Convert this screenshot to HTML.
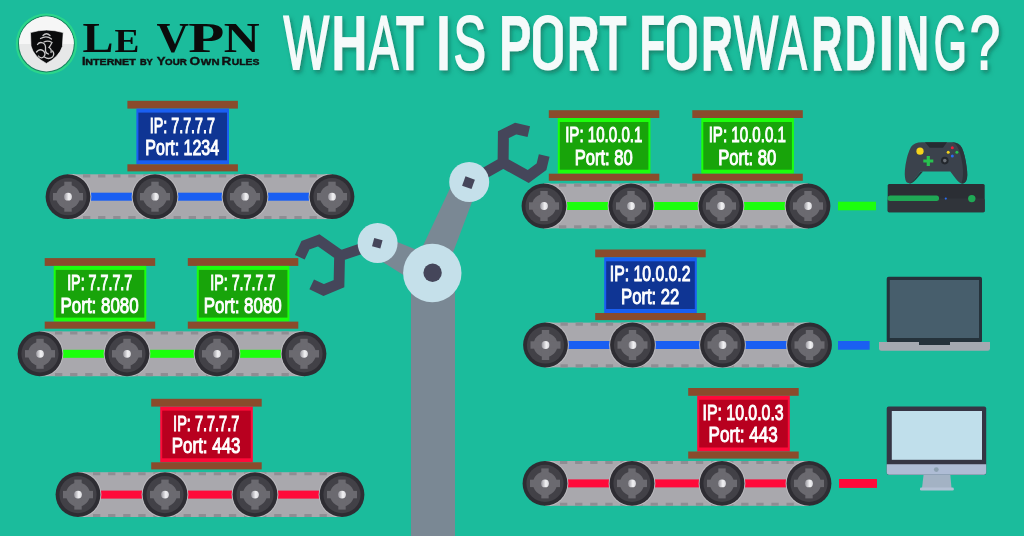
<!DOCTYPE html>
<html><head><meta charset="utf-8"><style>
html,body{margin:0;padding:0;background:#1bbc9c;}
svg{display:block;}
.bt{font-family:"Liberation Sans",sans-serif;font-weight:bold;font-size:23px;fill:#fff;text-anchor:middle;}
.tt{font-family:"Liberation Sans",sans-serif;font-weight:bold;font-size:79px;fill:#f5fafa;}
</style></head><body>
<svg style="will-change:transform" width="1024" height="536" viewBox="0 0 1024 536">
<defs>
<g id="wheel">
<circle r="22.4" fill="#2e2d33"/>
<circle r="18.6" fill="#424147"/>
<circle r="12" fill="#6b6a70"/>
<rect x="-3.7" y="-15" width="7.4" height="30" fill="#6b6a70"/>
<rect x="-15" y="-3.7" width="30" height="7.4" fill="#6b6a70"/>
<circle r="3.9" fill="url(#pin)"/>
</g>
<linearGradient id="pin" x1="0" x2="1" y1="0" y2="0"><stop offset="0" stop-color="#9a99a0"/><stop offset="0.6" stop-color="#f2f2f4"/><stop offset="1" stop-color="#d8d8dc"/></linearGradient>
<filter id="tsh" x="-5%" y="-20%" width="110%" height="150%"><feDropShadow dx="2" dy="3" stdDeviation="2" flood-color="#0a5a48" flood-opacity="0.55"/></filter>
<radialGradient id="logoW" cx="0.5" cy="0.4" r="0.6"><stop offset="0" stop-color="#ffffff"/><stop offset="1" stop-color="#e4e4e4"/></radialGradient>
</defs>
<rect width="1024" height="536" fill="#1bbc9c"/>

<rect x="411" y="273" width="44" height="263" fill="#7a8894"/>
<path d="M410.2 273 L456.25 175 L482.2 175 L445.3 273 Z" fill="#7a8894"/>
<path d="M370 231 L432 255.95 L432 292.9 L370 254.1 Z" fill="#7a8894"/>
<path d="M469 182 L503.1 162.6 M528.8 131.6 L515.7 128.6 L503.4 134.6 L503.1 162.6 L528.3 176.5 L541.5 166.7 L544.2 155.5" fill="none" stroke="#45465a" stroke-width="11" stroke-linejoin="miter"/>
<path d="M377.6 243 L339.6 256 M299.8 257.2 L305.4 245.3 L318.7 240.4 L339.6 255 L339 283.7 L323.6 290 L311.7 284.4" fill="none" stroke="#45465a" stroke-width="10.8" stroke-linejoin="miter"/>
<circle cx="432.3" cy="273" r="29.2" fill="#c5e0ea"/><circle cx="432.6" cy="272.8" r="9.2" fill="#45465a"/>
<circle cx="469.2" cy="182" r="20" fill="#c5e0ea"/><rect x="-5" y="-5" width="10" height="10" fill="#45465a" transform="translate(468.5 182.7) rotate(20)"/>
<circle cx="377.6" cy="243" r="20" fill="#c5e0ea"/><rect x="-4.3" y="-4.3" width="8.6" height="8.6" fill="#45465a" transform="translate(377.3 243.2) rotate(15)"/>
<rect x="68" y="174.29999999999998" width="264" height="44.8" fill="#a9a8ad"/>
<path d="M83.0 174.3h7.3v3.1h-7.3z M83.0 216.0h7.3v3.1h-7.3z M98.1 174.3h7.3v3.1h-7.3z M98.1 216.0h7.3v3.1h-7.3z M113.2 174.3h7.3v3.1h-7.3z M113.2 216.0h7.3v3.1h-7.3z M128.3 174.3h7.3v3.1h-7.3z M128.3 216.0h7.3v3.1h-7.3z M143.4 174.3h7.3v3.1h-7.3z M143.4 216.0h7.3v3.1h-7.3z M158.5 174.3h7.3v3.1h-7.3z M158.5 216.0h7.3v3.1h-7.3z M173.6 174.3h7.3v3.1h-7.3z M173.6 216.0h7.3v3.1h-7.3z M188.7 174.3h7.3v3.1h-7.3z M188.7 216.0h7.3v3.1h-7.3z M203.8 174.3h7.3v3.1h-7.3z M203.8 216.0h7.3v3.1h-7.3z M218.9 174.3h7.3v3.1h-7.3z M218.9 216.0h7.3v3.1h-7.3z M234.0 174.3h7.3v3.1h-7.3z M234.0 216.0h7.3v3.1h-7.3z M249.1 174.3h7.3v3.1h-7.3z M249.1 216.0h7.3v3.1h-7.3z M264.2 174.3h7.3v3.1h-7.3z M264.2 216.0h7.3v3.1h-7.3z M279.3 174.3h7.3v3.1h-7.3z M279.3 216.0h7.3v3.1h-7.3z M294.4 174.3h7.3v3.1h-7.3z M294.4 216.0h7.3v3.1h-7.3z M309.5 174.3h7.3v3.1h-7.3z M309.5 216.0h7.3v3.1h-7.3z" fill="#8e8d93"/>
<rect x="68" y="192.7" width="264" height="8" fill="#1a5ff2"/>
<clipPath id="cp68_196"><rect x="68" y="174.29999999999998" width="264" height="44.8"/></clipPath>
<g clip-path="url(#cp68_196)" fill="#bcbbbf"><circle cx="68" cy="196.7" r="23.4"/><circle cx="155" cy="196.7" r="23.4"/><circle cx="245" cy="196.7" r="23.4"/><circle cx="332" cy="196.7" r="23.4"/></g>
<use href="#wheel" x="68" y="196.7"/>
<use href="#wheel" x="155" y="196.7"/>
<use href="#wheel" x="245" y="196.7"/>
<use href="#wheel" x="332" y="196.7"/>
<rect x="40" y="331.40000000000003" width="264" height="44.8" fill="#a9a8ad"/>
<path d="M55.0 331.4h7.3v3.1h-7.3z M55.0 373.1h7.3v3.1h-7.3z M70.1 331.4h7.3v3.1h-7.3z M70.1 373.1h7.3v3.1h-7.3z M85.2 331.4h7.3v3.1h-7.3z M85.2 373.1h7.3v3.1h-7.3z M100.3 331.4h7.3v3.1h-7.3z M100.3 373.1h7.3v3.1h-7.3z M115.4 331.4h7.3v3.1h-7.3z M115.4 373.1h7.3v3.1h-7.3z M130.5 331.4h7.3v3.1h-7.3z M130.5 373.1h7.3v3.1h-7.3z M145.6 331.4h7.3v3.1h-7.3z M145.6 373.1h7.3v3.1h-7.3z M160.7 331.4h7.3v3.1h-7.3z M160.7 373.1h7.3v3.1h-7.3z M175.8 331.4h7.3v3.1h-7.3z M175.8 373.1h7.3v3.1h-7.3z M190.9 331.4h7.3v3.1h-7.3z M190.9 373.1h7.3v3.1h-7.3z M206.0 331.4h7.3v3.1h-7.3z M206.0 373.1h7.3v3.1h-7.3z M221.1 331.4h7.3v3.1h-7.3z M221.1 373.1h7.3v3.1h-7.3z M236.2 331.4h7.3v3.1h-7.3z M236.2 373.1h7.3v3.1h-7.3z M251.3 331.4h7.3v3.1h-7.3z M251.3 373.1h7.3v3.1h-7.3z M266.4 331.4h7.3v3.1h-7.3z M266.4 373.1h7.3v3.1h-7.3z M281.5 331.4h7.3v3.1h-7.3z M281.5 373.1h7.3v3.1h-7.3z" fill="#8e8d93"/>
<rect x="40" y="349.8" width="264" height="8" fill="#1cff0c"/>
<clipPath id="cp40_353"><rect x="40" y="331.40000000000003" width="264" height="44.8"/></clipPath>
<g clip-path="url(#cp40_353)" fill="#bcbbbf"><circle cx="40" cy="353.8" r="23.4"/><circle cx="127" cy="353.8" r="23.4"/><circle cx="217" cy="353.8" r="23.4"/><circle cx="304" cy="353.8" r="23.4"/></g>
<use href="#wheel" x="40" y="353.8"/>
<use href="#wheel" x="127" y="353.8"/>
<use href="#wheel" x="217" y="353.8"/>
<use href="#wheel" x="304" y="353.8"/>
<rect x="78" y="472.20000000000005" width="264" height="44.8" fill="#a9a8ad"/>
<path d="M93.0 472.2h7.3v3.1h-7.3z M93.0 513.9h7.3v3.1h-7.3z M108.1 472.2h7.3v3.1h-7.3z M108.1 513.9h7.3v3.1h-7.3z M123.2 472.2h7.3v3.1h-7.3z M123.2 513.9h7.3v3.1h-7.3z M138.3 472.2h7.3v3.1h-7.3z M138.3 513.9h7.3v3.1h-7.3z M153.4 472.2h7.3v3.1h-7.3z M153.4 513.9h7.3v3.1h-7.3z M168.5 472.2h7.3v3.1h-7.3z M168.5 513.9h7.3v3.1h-7.3z M183.6 472.2h7.3v3.1h-7.3z M183.6 513.9h7.3v3.1h-7.3z M198.7 472.2h7.3v3.1h-7.3z M198.7 513.9h7.3v3.1h-7.3z M213.8 472.2h7.3v3.1h-7.3z M213.8 513.9h7.3v3.1h-7.3z M228.9 472.2h7.3v3.1h-7.3z M228.9 513.9h7.3v3.1h-7.3z M244.0 472.2h7.3v3.1h-7.3z M244.0 513.9h7.3v3.1h-7.3z M259.1 472.2h7.3v3.1h-7.3z M259.1 513.9h7.3v3.1h-7.3z M274.2 472.2h7.3v3.1h-7.3z M274.2 513.9h7.3v3.1h-7.3z M289.3 472.2h7.3v3.1h-7.3z M289.3 513.9h7.3v3.1h-7.3z M304.4 472.2h7.3v3.1h-7.3z M304.4 513.9h7.3v3.1h-7.3z M319.5 472.2h7.3v3.1h-7.3z M319.5 513.9h7.3v3.1h-7.3z" fill="#8e8d93"/>
<rect x="78" y="490.6" width="264" height="8" fill="#ff0a3a"/>
<clipPath id="cp78_494"><rect x="78" y="472.20000000000005" width="264" height="44.8"/></clipPath>
<g clip-path="url(#cp78_494)" fill="#bcbbbf"><circle cx="78" cy="494.6" r="23.4"/><circle cx="165" cy="494.6" r="23.4"/><circle cx="255" cy="494.6" r="23.4"/><circle cx="342" cy="494.6" r="23.4"/></g>
<use href="#wheel" x="78" y="494.6"/>
<use href="#wheel" x="165" y="494.6"/>
<use href="#wheel" x="255" y="494.6"/>
<use href="#wheel" x="342" y="494.6"/>
<rect x="544" y="183.6" width="264" height="44.8" fill="#a9a8ad"/>
<path d="M559.0 183.6h7.3v3.1h-7.3z M559.0 225.3h7.3v3.1h-7.3z M574.1 183.6h7.3v3.1h-7.3z M574.1 225.3h7.3v3.1h-7.3z M589.2 183.6h7.3v3.1h-7.3z M589.2 225.3h7.3v3.1h-7.3z M604.3 183.6h7.3v3.1h-7.3z M604.3 225.3h7.3v3.1h-7.3z M619.4 183.6h7.3v3.1h-7.3z M619.4 225.3h7.3v3.1h-7.3z M634.5 183.6h7.3v3.1h-7.3z M634.5 225.3h7.3v3.1h-7.3z M649.6 183.6h7.3v3.1h-7.3z M649.6 225.3h7.3v3.1h-7.3z M664.7 183.6h7.3v3.1h-7.3z M664.7 225.3h7.3v3.1h-7.3z M679.8 183.6h7.3v3.1h-7.3z M679.8 225.3h7.3v3.1h-7.3z M694.9 183.6h7.3v3.1h-7.3z M694.9 225.3h7.3v3.1h-7.3z M710.0 183.6h7.3v3.1h-7.3z M710.0 225.3h7.3v3.1h-7.3z M725.1 183.6h7.3v3.1h-7.3z M725.1 225.3h7.3v3.1h-7.3z M740.2 183.6h7.3v3.1h-7.3z M740.2 225.3h7.3v3.1h-7.3z M755.3 183.6h7.3v3.1h-7.3z M755.3 225.3h7.3v3.1h-7.3z M770.4 183.6h7.3v3.1h-7.3z M770.4 225.3h7.3v3.1h-7.3z M785.5 183.6h7.3v3.1h-7.3z M785.5 225.3h7.3v3.1h-7.3z" fill="#8e8d93"/>
<rect x="544" y="202" width="264" height="8" fill="#1cff0c"/>
<clipPath id="cp544_206"><rect x="544" y="183.6" width="264" height="44.8"/></clipPath>
<g clip-path="url(#cp544_206)" fill="#bcbbbf"><circle cx="544" cy="206" r="23.4"/><circle cx="631" cy="206" r="23.4"/><circle cx="721" cy="206" r="23.4"/><circle cx="808" cy="206" r="23.4"/></g>
<use href="#wheel" x="544" y="206"/>
<use href="#wheel" x="631" y="206"/>
<use href="#wheel" x="721" y="206"/>
<use href="#wheel" x="808" y="206"/>
<rect x="545.5" y="322.6" width="264.0" height="44.8" fill="#a9a8ad"/>
<path d="M560.5 322.6h7.3v3.1h-7.3z M560.5 364.3h7.3v3.1h-7.3z M575.6 322.6h7.3v3.1h-7.3z M575.6 364.3h7.3v3.1h-7.3z M590.7 322.6h7.3v3.1h-7.3z M590.7 364.3h7.3v3.1h-7.3z M605.8 322.6h7.3v3.1h-7.3z M605.8 364.3h7.3v3.1h-7.3z M620.9 322.6h7.3v3.1h-7.3z M620.9 364.3h7.3v3.1h-7.3z M636.0 322.6h7.3v3.1h-7.3z M636.0 364.3h7.3v3.1h-7.3z M651.1 322.6h7.3v3.1h-7.3z M651.1 364.3h7.3v3.1h-7.3z M666.2 322.6h7.3v3.1h-7.3z M666.2 364.3h7.3v3.1h-7.3z M681.3 322.6h7.3v3.1h-7.3z M681.3 364.3h7.3v3.1h-7.3z M696.4 322.6h7.3v3.1h-7.3z M696.4 364.3h7.3v3.1h-7.3z M711.5 322.6h7.3v3.1h-7.3z M711.5 364.3h7.3v3.1h-7.3z M726.6 322.6h7.3v3.1h-7.3z M726.6 364.3h7.3v3.1h-7.3z M741.7 322.6h7.3v3.1h-7.3z M741.7 364.3h7.3v3.1h-7.3z M756.8 322.6h7.3v3.1h-7.3z M756.8 364.3h7.3v3.1h-7.3z M771.9 322.6h7.3v3.1h-7.3z M771.9 364.3h7.3v3.1h-7.3z M787.0 322.6h7.3v3.1h-7.3z M787.0 364.3h7.3v3.1h-7.3z" fill="#8e8d93"/>
<rect x="545.5" y="341" width="264.0" height="8" fill="#1a5ff2"/>
<clipPath id="cp545_345"><rect x="545.5" y="322.6" width="264.0" height="44.8"/></clipPath>
<g clip-path="url(#cp545_345)" fill="#bcbbbf"><circle cx="545.5" cy="345" r="23.4"/><circle cx="632.5" cy="345" r="23.4"/><circle cx="722.5" cy="345" r="23.4"/><circle cx="809.5" cy="345" r="23.4"/></g>
<use href="#wheel" x="545.5" y="345"/>
<use href="#wheel" x="632.5" y="345"/>
<use href="#wheel" x="722.5" y="345"/>
<use href="#wheel" x="809.5" y="345"/>
<rect x="545" y="461.0" width="264" height="44.8" fill="#a9a8ad"/>
<path d="M560.0 461.0h7.3v3.1h-7.3z M560.0 502.7h7.3v3.1h-7.3z M575.1 461.0h7.3v3.1h-7.3z M575.1 502.7h7.3v3.1h-7.3z M590.2 461.0h7.3v3.1h-7.3z M590.2 502.7h7.3v3.1h-7.3z M605.3 461.0h7.3v3.1h-7.3z M605.3 502.7h7.3v3.1h-7.3z M620.4 461.0h7.3v3.1h-7.3z M620.4 502.7h7.3v3.1h-7.3z M635.5 461.0h7.3v3.1h-7.3z M635.5 502.7h7.3v3.1h-7.3z M650.6 461.0h7.3v3.1h-7.3z M650.6 502.7h7.3v3.1h-7.3z M665.7 461.0h7.3v3.1h-7.3z M665.7 502.7h7.3v3.1h-7.3z M680.8 461.0h7.3v3.1h-7.3z M680.8 502.7h7.3v3.1h-7.3z M695.9 461.0h7.3v3.1h-7.3z M695.9 502.7h7.3v3.1h-7.3z M711.0 461.0h7.3v3.1h-7.3z M711.0 502.7h7.3v3.1h-7.3z M726.1 461.0h7.3v3.1h-7.3z M726.1 502.7h7.3v3.1h-7.3z M741.2 461.0h7.3v3.1h-7.3z M741.2 502.7h7.3v3.1h-7.3z M756.3 461.0h7.3v3.1h-7.3z M756.3 502.7h7.3v3.1h-7.3z M771.4 461.0h7.3v3.1h-7.3z M771.4 502.7h7.3v3.1h-7.3z M786.5 461.0h7.3v3.1h-7.3z M786.5 502.7h7.3v3.1h-7.3z" fill="#8e8d93"/>
<rect x="545" y="479.4" width="264" height="8" fill="#ff0a3a"/>
<clipPath id="cp545_483"><rect x="545" y="461.0" width="264" height="44.8"/></clipPath>
<g clip-path="url(#cp545_483)" fill="#bcbbbf"><circle cx="545" cy="483.4" r="23.4"/><circle cx="632" cy="483.4" r="23.4"/><circle cx="722" cy="483.4" r="23.4"/><circle cx="809" cy="483.4" r="23.4"/></g>
<use href="#wheel" x="545" y="483.4"/>
<use href="#wheel" x="632" y="483.4"/>
<use href="#wheel" x="722" y="483.4"/>
<use href="#wheel" x="809" y="483.4"/>
<rect x="127.4" y="100.8" width="110.5" height="7.8" fill="#8a4b2c"/>
<rect x="136.4" y="108.6" width="92.6" height="55.7" fill="#1a5ff2"/>
<rect x="138.4" y="112.6" width="88.6" height="47.7" fill="#0f3594"/>
<rect x="127.4" y="164.3" width="110.5" height="7.1" fill="#8a4b2c"/>
<text transform="translate(149.83 132.75) scale(0.6425 1)" font-family="Liberation Sans" font-weight="normal" font-size="22.24" fill="#fff" style="font-kerning:none"  stroke="#fff" stroke-width="0.9" vector-effect="non-scaling-stroke" stroke-linejoin="miter">IP: 7.7.7.7</text>
<text transform="translate(145.34 155.25) scale(0.7247 1)" font-family="Liberation Sans" font-weight="normal" font-size="22.09" fill="#fff" style="font-kerning:none"  stroke="#fff" stroke-width="0.9" vector-effect="non-scaling-stroke" stroke-linejoin="miter">Port: 1234</text>
<rect x="44.7" y="258.1" width="110.5" height="7.8" fill="#8a4b2c"/>
<rect x="53.7" y="265.90000000000003" width="92.6" height="55.7" fill="#1cff0c"/>
<rect x="55.7" y="269.90000000000003" width="88.6" height="47.7" fill="#18a40a"/>
<rect x="44.7" y="321.6" width="110.5" height="7.1" fill="#8a4b2c"/>
<text transform="translate(67.13 290.05) scale(0.6425 1)" font-family="Liberation Sans" font-weight="normal" font-size="22.24" fill="#fff" style="font-kerning:none"  stroke="#fff" stroke-width="0.9" vector-effect="non-scaling-stroke" stroke-linejoin="miter">IP: 7.7.7.7</text>
<text transform="translate(60.56 312.55) scale(0.7666 1)" font-family="Liberation Sans" font-weight="normal" font-size="22.09" fill="#fff" style="font-kerning:none"  stroke="#fff" stroke-width="0.9" vector-effect="non-scaling-stroke" stroke-linejoin="miter">Port: 8080</text>
<rect x="187.8" y="258.1" width="110.5" height="7.8" fill="#8a4b2c"/>
<rect x="196.8" y="265.90000000000003" width="92.6" height="55.7" fill="#1cff0c"/>
<rect x="198.8" y="269.90000000000003" width="88.6" height="47.7" fill="#18a40a"/>
<rect x="187.8" y="321.6" width="110.5" height="7.1" fill="#8a4b2c"/>
<text transform="translate(210.23 290.05) scale(0.6425 1)" font-family="Liberation Sans" font-weight="normal" font-size="22.24" fill="#fff" style="font-kerning:none"  stroke="#fff" stroke-width="0.9" vector-effect="non-scaling-stroke" stroke-linejoin="miter">IP: 7.7.7.7</text>
<text transform="translate(203.66 312.55) scale(0.7666 1)" font-family="Liberation Sans" font-weight="normal" font-size="22.09" fill="#fff" style="font-kerning:none"  stroke="#fff" stroke-width="0.9" vector-effect="non-scaling-stroke" stroke-linejoin="miter">Port: 8080</text>
<rect x="151.2" y="398.8" width="110.5" height="7.8" fill="#8a4b2c"/>
<rect x="160.2" y="406.6" width="92.6" height="55.7" fill="#ff0a3a"/>
<rect x="162.2" y="410.6" width="88.6" height="47.7" fill="#b8001f"/>
<rect x="151.2" y="462.3" width="110.5" height="7.1" fill="#8a4b2c"/>
<text transform="translate(173.11 430.75) scale(0.6527 1)" font-family="Liberation Sans" font-weight="normal" font-size="22.24" fill="#fff" style="font-kerning:none"  stroke="#fff" stroke-width="0.9" vector-effect="non-scaling-stroke" stroke-linejoin="miter">IP: 7.7.7.7</text>
<text transform="translate(171.81 453.25) scale(0.7666 1)" font-family="Liberation Sans" font-weight="normal" font-size="22.09" fill="#fff" style="font-kerning:none"  stroke="#fff" stroke-width="0.9" vector-effect="non-scaling-stroke" stroke-linejoin="miter">Port: 443</text>
<rect x="548.8" y="110.2" width="110.5" height="7.8" fill="#8a4b2c"/>
<rect x="557.8" y="118.0" width="92.6" height="55.7" fill="#1cff0c"/>
<rect x="559.8" y="122.0" width="88.6" height="47.7" fill="#18a40a"/>
<rect x="548.8" y="173.7" width="110.5" height="7.1" fill="#8a4b2c"/>
<text transform="translate(565.16 142.15) scale(0.6790 1)" font-family="Liberation Sans" font-weight="normal" font-size="22.24" fill="#fff" style="font-kerning:none"  stroke="#fff" stroke-width="0.9" vector-effect="non-scaling-stroke" stroke-linejoin="miter">IP: 10.0.0.1</text>
<text transform="translate(574.69 164.65) scale(0.7511 1)" font-family="Liberation Sans" font-weight="normal" font-size="22.09" fill="#fff" style="font-kerning:none"  stroke="#fff" stroke-width="0.9" vector-effect="non-scaling-stroke" stroke-linejoin="miter">Port: 80</text>
<rect x="692.3" y="110.2" width="110.5" height="7.8" fill="#8a4b2c"/>
<rect x="701.3" y="118.0" width="92.6" height="55.7" fill="#1cff0c"/>
<rect x="703.3" y="122.0" width="88.6" height="47.7" fill="#18a40a"/>
<rect x="692.3" y="173.7" width="110.5" height="7.1" fill="#8a4b2c"/>
<text transform="translate(708.66 142.15) scale(0.6790 1)" font-family="Liberation Sans" font-weight="normal" font-size="22.24" fill="#fff" style="font-kerning:none"  stroke="#fff" stroke-width="0.9" vector-effect="non-scaling-stroke" stroke-linejoin="miter">IP: 10.0.0.1</text>
<text transform="translate(718.19 164.65) scale(0.7511 1)" font-family="Liberation Sans" font-weight="normal" font-size="22.09" fill="#fff" style="font-kerning:none"  stroke="#fff" stroke-width="0.9" vector-effect="non-scaling-stroke" stroke-linejoin="miter">Port: 80</text>
<rect x="595.2" y="249.5" width="110.5" height="7.8" fill="#8a4b2c"/>
<rect x="604.2" y="257.3" width="92.6" height="55.7" fill="#1a5ff2"/>
<rect x="606.2" y="261.3" width="88.6" height="47.7" fill="#0f3594"/>
<rect x="595.2" y="313.0" width="110.5" height="7.1" fill="#8a4b2c"/>
<text transform="translate(609.79 281.45) scale(0.7099 1)" font-family="Liberation Sans" font-weight="normal" font-size="22.24" fill="#fff" style="font-kerning:none"  stroke="#fff" stroke-width="0.9" vector-effect="non-scaling-stroke" stroke-linejoin="miter">IP: 10.0.0.2</text>
<text transform="translate(621.08 303.95) scale(0.7536 1)" font-family="Liberation Sans" font-weight="normal" font-size="22.09" fill="#fff" style="font-kerning:none"  stroke="#fff" stroke-width="0.9" vector-effect="non-scaling-stroke" stroke-linejoin="miter">Port: 22</text>
<rect x="688.2" y="388" width="110.5" height="7.8" fill="#8a4b2c"/>
<rect x="697.2" y="395.8" width="92.6" height="55.7" fill="#ff0a3a"/>
<rect x="699.2" y="399.8" width="88.6" height="47.7" fill="#b8001f"/>
<rect x="688.2" y="451.5" width="110.5" height="7.1" fill="#8a4b2c"/>
<text transform="translate(702.48 419.95) scale(0.7144 1)" font-family="Liberation Sans" font-weight="normal" font-size="22.24" fill="#fff" style="font-kerning:none"  stroke="#fff" stroke-width="0.9" vector-effect="non-scaling-stroke" stroke-linejoin="miter">IP: 10.0.0.3</text>
<text transform="translate(708.55 442.45) scale(0.7724 1)" font-family="Liberation Sans" font-weight="normal" font-size="22.09" fill="#fff" style="font-kerning:none"  stroke="#fff" stroke-width="0.9" vector-effect="non-scaling-stroke" stroke-linejoin="miter">Port: 443</text>
<rect x="838" y="201.7" width="38" height="8.6" fill="#1cff0c"/>
<rect x="838" y="341" width="31.6" height="8.7" fill="#1a5ff2"/>
<rect x="839" y="479" width="38" height="8.9" fill="#ff0a3a"/>
<rect x="887.7" y="184" width="97" height="28.3" rx="1.5" fill="#2b2e34"/>
<rect x="887.7" y="198.6" width="97" height="13.7" rx="1.5" fill="#30343a"/>
<rect x="887.7" y="195.5" width="51.3" height="5.5" rx="2.5" fill="#1fa855"/>
<circle cx="971.8" cy="198.6" r="3.7" fill="#1fa855"/>
<circle cx="945.8" cy="198.6" r="1.1" fill="#2a6cf0"/>
<path d="M922 142.2 L953.3 142.3 Q959 142.5 962 148 Q965 155 966.5 166 Q968 176 966.5 180 Q965 184 961.5 183.4 Q959 183 956 179 L950.3 171.4 L920.5 171.4 L914.5 179 Q912 183 910.3 183.3 Q906.5 183.6 905.5 180 Q904 175 905.5 165 Q907.5 153 911 147 Q914 142.2 922 142.2 Z" fill="#3b424c"/>
<path d="M952 142.3 Q959 142.5 962 148 Q965 155 966.5 166 Q968 176 966.5 180 Q965 184 961.5 183.4 Q964 176 962.5 165 Q961 153 957 146 Q955 143 952 142.3 Z" fill="#2d333a"/>
<path d="M914.5 179 L920.5 171.4 L923 171.4 L916 179.5 Q912 184 909 183.4 Q912 182.5 914.5 179 Z" fill="#2d333a"/>
<path d="M925 142.2 L947 142.2 L943 147.8 L929.7 147.8 Z" fill="#262b32"/>
<circle cx="920" cy="151.2" r="3.6" fill="#f5d31c"/>
<path d="M926.7 156 h3.2 v3.4 h3.4 v3.2 h-3.4 v3.4 h-3.2 v-3.4 h-3.4 v-3.2 h3.4z" fill="#27c24f"/>
<circle cx="944.8" cy="160.6" r="3.8" fill="#23272d"/><circle cx="944.8" cy="160.6" r="1.8" fill="#6c7178"/>
<circle cx="952.3" cy="147.7" r="1.5" fill="#e8203c"/><circle cx="948.2" cy="152.2" r="1.5" fill="#f3d21b"/><circle cx="956.9" cy="152.2" r="1.5" fill="#27c24f"/><circle cx="952.3" cy="155.9" r="1.5" fill="#2a6cf0"/>
<rect x="886.7" y="276.8" width="95.3" height="66" rx="2" fill="#25323b"/>
<rect x="889.8" y="280" width="89.2" height="58" fill="#475e6c"/>
<path d="M879 342 h111 v6.5 q0 2.2 -2.2 2.2 h-106.6 q-2.2 0 -2.2 -2.2z" fill="#a5a9b1"/>
<rect x="919" y="342" width="31" height="3" fill="#25323b"/>
<path d="M923.6 474.7 L950.3 474.7 L951.5 488 L922 488 Z" fill="#a3b2c4"/>
<rect x="920" y="487.5" width="33.8" height="3" rx="1.3" fill="#b3c0d4"/>
<rect x="886.7" y="406.4" width="99.5" height="68.3" rx="2" fill="#353544"/>
<path d="M886.7 464.3 h99.5 v8.3 q0 2.1 -2.1 2.1 h-95.3 q-2.1 0 -2.1 -2.1z" fill="#aebcd5"/>
<rect x="891.8" y="411" width="90.2" height="48.8" fill="#c0dfeb"/>
<circle cx="936.3" cy="469.6" r="2.4" fill="#8ca0b0"/>
<g filter="url(#tsh)">
<text transform="translate(283.39 69.00) scale(0.6366 1)" font-family="Liberation Sans" font-weight="normal" font-size="76.02" fill="#f5fafa" style="font-kerning:none"  stroke="#f5fafa" stroke-width="1.6" vector-effect="non-scaling-stroke" stroke-linejoin="miter">W</text>
<text transform="translate(331.39 69.50) scale(0.6389 1)" font-family="Liberation Sans" font-weight="bold" font-size="77.47" fill="#f5fafa" style="font-kerning:none"  stroke="#f5fafa" stroke-width="0.6" vector-effect="non-scaling-stroke" stroke-linejoin="miter">H</text>
<text transform="translate(369.11 69.00) scale(0.5793 1)" font-family="Liberation Sans" font-weight="normal" font-size="76.02" fill="#f5fafa" style="font-kerning:none"  stroke="#f5fafa" stroke-width="1.6" vector-effect="non-scaling-stroke" stroke-linejoin="miter">A</text>
<text transform="translate(395.89 69.50) scale(0.5853 1)" font-family="Liberation Sans" font-weight="bold" font-size="77.47" fill="#f5fafa" style="font-kerning:none"  stroke="#f5fafa" stroke-width="0.6" vector-effect="non-scaling-stroke" stroke-linejoin="miter">T</text>
<text transform="translate(436.22 69.50) scale(0.6721 1)" font-family="Liberation Sans" font-weight="bold" font-size="77.47" fill="#f5fafa" style="font-kerning:none"  stroke="#f5fafa" stroke-width="0.6" vector-effect="non-scaling-stroke" stroke-linejoin="miter">I</text>
<text transform="translate(453.58 69.00) scale(0.6421 1)" font-family="Liberation Sans" font-weight="normal" font-size="76.02" fill="#f5fafa" style="font-kerning:none"  stroke="#f5fafa" stroke-width="1.6" vector-effect="non-scaling-stroke" stroke-linejoin="miter">S</text>
<text transform="translate(498.95 69.50) scale(0.6272 1)" font-family="Liberation Sans" font-weight="bold" font-size="77.47" fill="#f5fafa" style="font-kerning:none"  stroke="#f5fafa" stroke-width="0.6" vector-effect="non-scaling-stroke" stroke-linejoin="miter">P</text>
<rect x="536.80" y="18.80" width="22.30" height="48.10" rx="11.15" ry="10.59" fill="none" stroke="#f5fafa" stroke-width="7.4"/>
<text transform="translate(567.09 69.50) scale(0.5816 1)" font-family="Liberation Sans" font-weight="bold" font-size="77.47" fill="#f5fafa" style="font-kerning:none"  stroke="#f5fafa" stroke-width="0.6" vector-effect="non-scaling-stroke" stroke-linejoin="miter">R</text>
<text transform="translate(599.60 69.50) scale(0.5699 1)" font-family="Liberation Sans" font-weight="bold" font-size="77.47" fill="#f5fafa" style="font-kerning:none"  stroke="#f5fafa" stroke-width="0.6" vector-effect="non-scaling-stroke" stroke-linejoin="miter">T</text>
<text transform="translate(639.49 69.50) scale(0.5419 1)" font-family="Liberation Sans" font-weight="bold" font-size="77.47" fill="#f5fafa" style="font-kerning:none"  stroke="#f5fafa" stroke-width="0.6" vector-effect="non-scaling-stroke" stroke-linejoin="miter">F</text>
<rect x="670.70" y="18.80" width="22.30" height="48.10" rx="11.15" ry="10.59" fill="none" stroke="#f5fafa" stroke-width="7.4"/>
<text transform="translate(701.08 69.50) scale(0.5724 1)" font-family="Liberation Sans" font-weight="bold" font-size="77.47" fill="#f5fafa" style="font-kerning:none"  stroke="#f5fafa" stroke-width="0.6" vector-effect="non-scaling-stroke" stroke-linejoin="miter">R</text>
<text transform="translate(733.89 69.00) scale(0.6141 1)" font-family="Liberation Sans" font-weight="normal" font-size="76.02" fill="#f5fafa" style="font-kerning:none"  stroke="#f5fafa" stroke-width="1.6" vector-effect="non-scaling-stroke" stroke-linejoin="miter">W</text>
<text transform="translate(778.52 69.00) scale(0.5575 1)" font-family="Liberation Sans" font-weight="normal" font-size="76.02" fill="#f5fafa" style="font-kerning:none"  stroke="#f5fafa" stroke-width="1.6" vector-effect="non-scaling-stroke" stroke-linejoin="miter">A</text>
<text transform="translate(811.20 69.50) scale(0.5592 1)" font-family="Liberation Sans" font-weight="bold" font-size="77.47" fill="#f5fafa" style="font-kerning:none"  stroke="#f5fafa" stroke-width="0.6" vector-effect="non-scaling-stroke" stroke-linejoin="miter">R</text>
<text transform="translate(844.71 69.50) scale(0.5578 1)" font-family="Liberation Sans" font-weight="bold" font-size="77.47" fill="#f5fafa" style="font-kerning:none"  stroke="#f5fafa" stroke-width="0.6" vector-effect="non-scaling-stroke" stroke-linejoin="miter">D</text>
<text transform="translate(878.48 69.50) scale(0.7169 1)" font-family="Liberation Sans" font-weight="bold" font-size="77.47" fill="#f5fafa" style="font-kerning:none"  stroke="#f5fafa" stroke-width="0.6" vector-effect="non-scaling-stroke" stroke-linejoin="miter">I</text>
<text transform="translate(896.25 69.50) scale(0.5884 1)" font-family="Liberation Sans" font-weight="bold" font-size="77.47" fill="#f5fafa" style="font-kerning:none"  stroke="#f5fafa" stroke-width="0.6" vector-effect="non-scaling-stroke" stroke-linejoin="miter">N</text>
<text transform="translate(933.66 69.00) scale(0.5602 1)" font-family="Liberation Sans" font-weight="normal" font-size="76.02" fill="#f5fafa" style="font-kerning:none"  stroke="#f5fafa" stroke-width="1.6" vector-effect="non-scaling-stroke" stroke-linejoin="miter">G</text>
<text transform="translate(969.86 69.00) scale(0.7182 1)" font-family="Liberation Sans" font-weight="normal" font-size="76.02" fill="#f5fafa" style="font-kerning:none"  stroke="#f5fafa" stroke-width="1.6" vector-effect="non-scaling-stroke" stroke-linejoin="miter">?</text>
</g>
<circle cx="46.4" cy="44" r="30.6" fill="#2bd68b"/>
<circle cx="46.4" cy="44" r="28.4" fill="#17805f"/>
<circle cx="46.4" cy="44" r="27.4" fill="#e7e8e8"/>
<path d="M19 44 A27.4 27.4 0 0 1 73.8 44 Z" fill="#f6f6f6"/>
<path d="M30.5 32.6 Q46.4 27.6 63.2 32.6 L62.4 46.5 Q59 57 46.4 63.4 Q33.8 57 31 46 Z" fill="#0a0b0c" stroke="#ffffff" stroke-width="0.6"/>
<g fill="none" stroke="#c9c9c9" stroke-width="1.3" stroke-linecap="round"><path d="M43 35.5 q3.5 -3.5 7 0"/><path d="M40.5 38.5 q6 -3.5 11 0.5"/><path d="M37.5 44.5 q2 -3 5.5 -1.5 q3 1.5 2.5 6 q-0.5 4 3 5"/><path d="M44 42 q4 -2 8 0.5 q-1.5 3 -3 5 q3 1.5 2 5"/><path d="M36.5 52 q3 -4 7 -1 q3 3 0 6 q-3 2 -5 -1"/><path d="M44.5 57 q4 3 8 0 q2.5 -3 0 -6"/></g>
<text transform="translate(82.41 52.00) scale(1.1045 1)" font-family="Liberation Serif" font-weight="bold" font-size="42.00" fill="#0b0b0b" style="font-kerning:none" >L</text>
<text transform="translate(114.46 52.00) scale(1.0841 1)" font-family="Liberation Serif" font-weight="bold" font-size="34.36" fill="#0b0b0b" style="font-kerning:none" >E</text>
<text transform="translate(156.39 52.00) scale(1.0719 1)" font-family="Liberation Serif" font-weight="bold" font-size="42.00" fill="#0b0b0b" style="font-kerning:none" >V</text>
<text transform="translate(188.29 52.00) scale(1.4065 1)" font-family="Liberation Serif" font-weight="bold" font-size="42.00" fill="#0b0b0b" style="font-kerning:none" >P</text>
<text transform="translate(223.65 52.00) scale(1.1837 1)" font-family="Liberation Serif" font-weight="bold" font-size="42.00" fill="#0b0b0b" style="font-kerning:none" >N</text>
<text transform="translate(81.97 65.08) scale(1.1703 1)" font-family="Liberation Sans" font-weight="bold" font-size="10.97" fill="#111" style="font-kerning:none"  stroke="#111" stroke-width="0.45" vector-effect="non-scaling-stroke" stroke-linejoin="miter">I</text>
<text transform="translate(85.31 65.08) scale(1.2765 1)" font-family="Liberation Sans" font-weight="bold" font-size="8.36" fill="#111" style="font-kerning:none"  stroke="#111" stroke-width="0.45" vector-effect="non-scaling-stroke" stroke-linejoin="miter">NTERNET</text>
<text transform="translate(139.90 65.08) scale(1.1130 1)" font-family="Liberation Sans" font-weight="bold" font-size="8.36" fill="#111" style="font-kerning:none"  stroke="#111" stroke-width="0.45" vector-effect="non-scaling-stroke" stroke-linejoin="miter">BY</text>
<text transform="translate(156.80 65.08) scale(1.2005 1)" font-family="Liberation Sans" font-weight="bold" font-size="10.97" fill="#111" style="font-kerning:none"  stroke="#111" stroke-width="0.45" vector-effect="non-scaling-stroke" stroke-linejoin="miter">Y</text>
<text transform="translate(165.02 65.08) scale(1.1712 1)" font-family="Liberation Sans" font-weight="bold" font-size="8.36" fill="#111" style="font-kerning:none"  stroke="#111" stroke-width="0.45" vector-effect="non-scaling-stroke" stroke-linejoin="miter">OUR</text>
<text transform="translate(189.57 65.08) scale(1.2731 1)" font-family="Liberation Sans" font-weight="bold" font-size="10.68" fill="#111" style="font-kerning:none"  stroke="#111" stroke-width="0.45" vector-effect="non-scaling-stroke" stroke-linejoin="miter">O</text>
<text transform="translate(200.81 65.08) scale(1.3681 1)" font-family="Liberation Sans" font-weight="bold" font-size="8.21" fill="#111" style="font-kerning:none"  stroke="#111" stroke-width="0.45" vector-effect="non-scaling-stroke" stroke-linejoin="miter">WN</text>
<text transform="translate(221.52 65.08) scale(1.2608 1)" font-family="Liberation Sans" font-weight="bold" font-size="10.68" fill="#111" style="font-kerning:none"  stroke="#111" stroke-width="0.45" vector-effect="non-scaling-stroke" stroke-linejoin="miter">R</text>
<text transform="translate(231.80 65.08) scale(1.2637 1)" font-family="Liberation Sans" font-weight="bold" font-size="8.21" fill="#111" style="font-kerning:none"  stroke="#111" stroke-width="0.45" vector-effect="non-scaling-stroke" stroke-linejoin="miter">ULES</text>
</svg></body></html>
